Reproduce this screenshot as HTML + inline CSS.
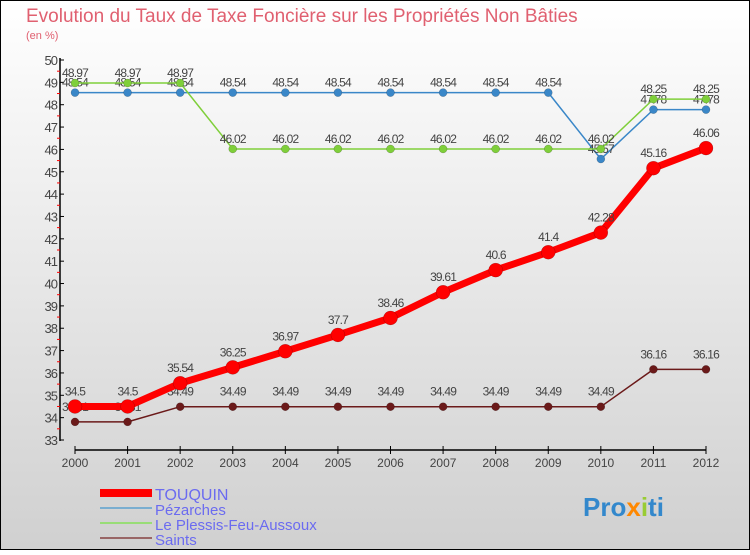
<!DOCTYPE html>
<html><head><meta charset="utf-8"><style>
html,body{margin:0;padding:0;}
body{width:750px;height:550px;overflow:hidden;font-family:"Liberation Sans",sans-serif;}
</style></head><body>
<svg width="750" height="550" xmlns="http://www.w3.org/2000/svg">
<defs><linearGradient id="bg" x1="0" y1="0" x2="0" y2="1"><stop offset="0" stop-color="#ffffff"/><stop offset="1" stop-color="#d0d0d0"/></linearGradient></defs>
<rect x="0.5" y="0.5" width="749" height="549" fill="url(#bg)" stroke="#000"/>
<text x="26" y="22" font-size="19" fill="#e06070">Evolution du Taux de Taxe Foncière sur les Propriétés Non Bâties</text>
<text x="26" y="39" font-size="11" fill="#e06070">(en %)</text>
<g id="axes"></g>
<g id="series"></g>
<g>
<rect x="100" y="489" width="52" height="8" fill="#f00"/>
<text x="155" y="500" font-size="16" fill="#6b6bf0">TOUQUIN</text>
<line x1="100" y1="508" x2="152" y2="508" stroke="#7aaed0" stroke-width="2"/>
<text x="155" y="515" font-size="15" fill="#6b6bf0">Pézarches</text>
<line x1="100" y1="523" x2="152" y2="523" stroke="#99dd77" stroke-width="2"/>
<text x="155" y="530" font-size="15" fill="#6b6bf0">Le Plessis-Feu-Aussoux</text>
<line x1="100" y1="538" x2="152" y2="538" stroke="#996666" stroke-width="2"/>
<text x="155" y="545" font-size="15" fill="#6b6bf0">Saints</text>
</g>
<g font-size="26" font-weight="bold">
<text x="583" y="516" fill="#3388cc">Pro<tspan fill="#ff8800">x</tspan><tspan fill="#99cc33">i</tspan><tspan fill="#3388cc">ti</tspan></text>
</g>
</svg>
<script>
const years=[2000,2001,2002,2003,2004,2005,2006,2007,2008,2009,2010,2011,2012];
const touquin=[34.5,34.5,35.54,36.25,36.97,37.7,38.46,39.61,40.6,41.4,42.28,45.16,46.06];
const pezarches=[48.54,48.54,48.54,48.54,48.54,48.54,48.54,48.54,48.54,48.54,45.57,47.78,47.78];
const plessis=[48.97,48.97,48.97,46.02,46.02,46.02,46.02,46.02,46.02,46.02,46.02,48.25,48.25];
const saints=[33.81,33.81,34.49,34.49,34.49,34.49,34.49,34.49,34.49,34.49,34.49,36.16,36.16];
const yTicks=[33,34,35,36,37,38,39,40,41,42,43,44,45,46,47,48,49,50];
const NS="http://www.w3.org/2000/svg";
function X(i){return 75+i*(706-75)/(years.length-1);}
function Y(v){return 60+(50-v)*(440-60)/17;}
function mk(t,a,p){const e=document.createElementNS(NS,t);for(const k in a)e.setAttribute(k,a[k]);p.appendChild(e);return e;}
const ax=document.getElementById('axes');
const yl=mk('line',{x1:60,y1:58,x2:60,y2:441,stroke:'#000','stroke-width':1.5},ax);


const xl=mk('line',{x1:75,y1:450,x2:706,y2:450,stroke:'#000','stroke-width':1.5},ax);


yTicks.forEach(v=>{
 mk('line',{x1:60,y1:Y(v),x2:64,y2:Y(v),stroke:'#000'},ax);
 if(v<50) mk('line',{x1:57,y1:Y(v+0.5),x2:60,y2:Y(v+0.5),stroke:'#f00'},ax);
 const t=mk('text',{x:57,y:Y(v)+5,'font-size':13,'text-anchor':'end',fill:'#444','letter-spacing':'-1'},ax);
 t.textContent=v;
 
 
});
years.forEach((yr,i)=>{
 mk('line',{x1:X(i),y1:446,x2:X(i),y2:454,stroke:'#000'},ax);
 const t=mk('text',{x:X(i),y:467,'font-size':12,'text-anchor':'middle',fill:'#444'},ax);
 t.textContent=yr;
 
 
});
const sg=document.getElementById('series');
function draw(arr,color,lw,r,name,dy){
 const g=mk('g',{},sg);
 
 
 mk('polyline',{points:arr.map((v,i)=>X(i)+','+Y(v)).join(' '),fill:'none',stroke:color,'stroke-width':lw,'stroke-linejoin':'round'},g);
 arr.forEach((v,i)=>{
  const c=mk('circle',{cx:X(i),cy:Y(v),r:r,fill:color,stroke:'rgba(0,0,0,0.3)','stroke-width':0.5},g);
  
  
  const t=mk('text',{x:X(i),y:Y(v)+dy,'font-size':12,'text-anchor':'middle',fill:'#444','letter-spacing':'-0.8'},g);
  t.textContent=v;
 });
}
draw(pezarches,'#3a87c8',1.5,4,'pezarches',-6);
draw(plessis,'#7fcf3a',1.5,4,'plessis',-6);
draw(saints,'#6b1a1a',1.5,4,'saints',-11);
draw(touquin,'#ff0000',7,7,'touquin',-11);
</script>
</body></html>
